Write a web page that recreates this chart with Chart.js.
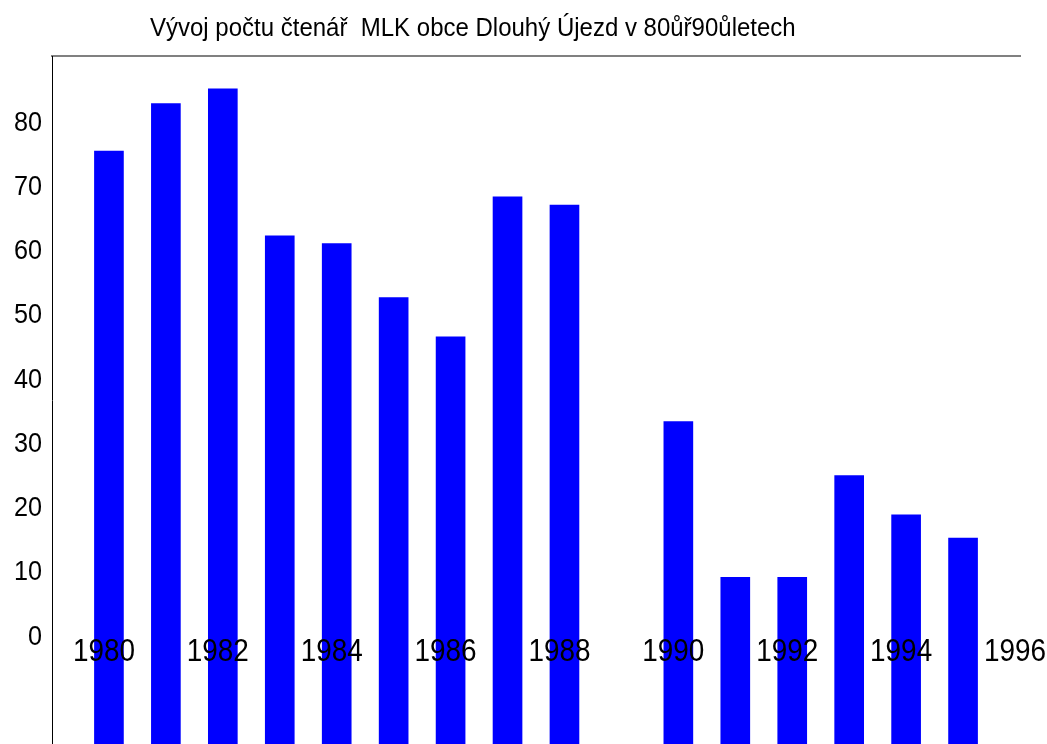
<!DOCTYPE html>
<html>
<head>
<meta charset="utf-8">
<script src="https://cdn.jsdelivr.net/npm/chart.js@4/dist/chart.umd.min.js"></script>
<style>
    html, body { margin: 0; padding: 0; background: #ffffff; }
    #wrap { width: 1047px; height: 744px; position: relative; }
</style>
</head>
<body>
<div id="wrap"><canvas id="chart"></canvas></div>
<script>
const titleText = 'Vývoj počtu čtenář  MLK obce Dlouhý Újezd v 80ůř90ůletech';
const years = [1980, 1981, 1982, 1983, 1984, 1985, 1986, 1987, 1988, 1989, 1990, 1991, 1992, 1993, 1994, 1995];
const readers = [75.6, 83.0, 85.3, 62.4, 61.2, 52.8, 46.7, 68.5, 67.2, null, 33.5, 9.3, 9.3, 25.1, 19.0, 15.4];
const xTickYears = [1980, 1982, 1984, 1986, 1988, 1990, 1992, 1994, 1996];
const yTickValues = [0, 10, 20, 30, 40, 50, 60, 70, 80];

const FONT = '"Liberation Sans", Arial, sans-serif';
const Y_MIN = -16.65;
const Y_MAX = 90.4;

// no narrow font installed, so squeeze the axis text horizontally while drawing
const narrowText = {
    id: 'narrowText',
    beforeDraw(chart, args, opts) {
        const ctx = chart.ctx;
        const fill = CanvasRenderingContext2D.prototype.fillText;
        ctx.fillText = function (text, x, y) {
            this.save();
            this.translate(x, y);
            this.scale(opts.scaleX, 1);
            fill.call(this, text, 0, 0);
            this.restore();
        };
    },
    afterDraw(chart, args, opts) {
        const ctx = chart.ctx;
        delete ctx.fillText;

        ctx.save();
        ctx.font = '25px ' + FONT;
        ctx.fillStyle = '#000000';
        ctx.textAlign = 'left';
        ctx.textBaseline = 'alphabetic';
        ctx.translate(150, 36);
        ctx.scale(opts.titleScaleX, 1);
        ctx.fillText(titleText, 0, 0);
        ctx.restore();
    }
};

const chart = new Chart(document.getElementById('chart').getContext('2d'), {
    type: 'bar',
    data: {
        datasets: [
            {
                label: 'Čtenáři',
                data: years.map((year, i) => ({ x: year, y: readers[i] })),
                backgroundColor: '#0000ff',
                borderWidth: 0,
                barThickness: 29,
                base: Y_MIN
            }
        ]
    },
    options: {
        responsive: true,
        maintainAspectRatio: false,
        animation: false,
        layout: {
            padding: { top: 56, right: 27, bottom: 0, left: 0 }
        },
        plugins: {
            legend: { display: false },
            tooltip: { enabled: false },
            narrowText: { scaleX: 0.9, titleScaleX: 0.96 }
        },
        scales: {
            x: {
                type: 'linear',
                position: { y: 0.5 },
                offset: false,
                min: 1979,
                max: 1996,
                afterBuildTicks: (scale) => {
                    scale.ticks = xTickYears.map((value) => ({ value }));
                },
                afterFit: (scale) => {
                    scale.height = 0;
                    scale.paddingLeft = 0;
                    scale.paddingRight = 0;
                },
                ticks: {
                    z: 1,
                    color: '#000000',
                    font: { family: FONT, size: 31 },
                    padding: 0,
                    labelOffset: -5,
                    maxRotation: 0,
                    autoSkip: false,
                    callback: (value) => String(value)
                },
                grid: { display: false, drawTicks: false },
                border: { display: false }
            },
            x2: {
                type: 'linear',
                position: 'top',
                offset: false,
                min: 1979,
                max: 1996,
                afterFit: (scale) => {
                    scale.height = 0;
                    scale.paddingLeft = 0;
                    scale.paddingRight = 0;
                },
                ticks: { display: false },
                grid: { display: false, drawTicks: false },
                border: { display: true, color: '#808080', width: 2 }
            },
            y: {
                min: Y_MIN,
                max: Y_MAX,
                afterBuildTicks: (scale) => {
                    scale.ticks = yTickValues.map((value) => ({ value }));
                },
                afterFit: (scale) => {
                    scale.width = 52;
                    scale.paddingTop = 0;
                    scale.paddingBottom = 0;
                },
                ticks: {
                    color: '#000000',
                    font: { family: FONT, size: 28 },
                    padding: 10,
                    callback: (value) => String(value)
                },
                grid: { drawOnChartArea: false, drawTicks: false },
                border: { display: true, color: '#000000', width: 1 }
            }
        }
    },
    plugins: [narrowText]
});
</script>
</body>
</html>
